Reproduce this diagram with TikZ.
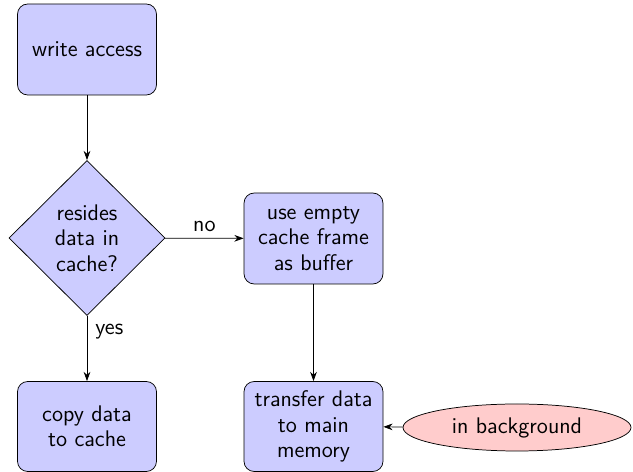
\documentclass[tikz,border=0pt]{standalone}
\usetikzlibrary{shapes.geometric,arrows.meta}
\begin{document}
\begin{tikzpicture}[x=0.54pt,y=-0.54pt,
  every node/.style={font=\sffamily\fontsize{12.2}{13.8}\selectfont},
  block/.style={draw, fill=blue!20, rounded corners=5.5pt, align=center,
    inner sep=0pt, minimum width=139*0.54pt, minimum height=90*0.54pt},
  decision/.style={draw, diamond, fill=blue!20, align=center, inner sep=0pt,
    minimum width=156*0.54pt, minimum height=155*0.54pt},
  cloud/.style={draw, ellipse, fill=red!20, inner sep=0pt,
    minimum width=228*0.54pt, minimum height=47*0.54pt},
  line/.style={draw, -{Stealth[length=5pt,width=3.6pt]}}]
  \useasboundingbox (0,0) rectangle (633,472);
  \node[block, minimum height=91*0.54pt] (write) at (87,49.5) {write access};
  \node[decision] (decide) at (87,238) {resides\\data in\\cache?};
  \node[block, minimum height=91*0.54pt] (use) at (313.5,238.5) {use empty\\cache frame\\as buffer};
  \node[block] (copy) at (87,426.5) {copy data\\to cache};
  \node[block] (transfer) at (313.5,426.5) {transfer data\\to main\\memory};
  \node[cloud] (bg) at (517,427.5) {in background};
  \path[line] (write) -- (decide);
  \path[line] (decide) -- node[above] {no} (use);
  \path[line] (decide) -- node[pos=0.24, right, xshift=1pt] {yes} (copy);
  \path[line] (use) -- (transfer);
  \path[line] (bg) -- (transfer);
\end{tikzpicture}
\end{document}
